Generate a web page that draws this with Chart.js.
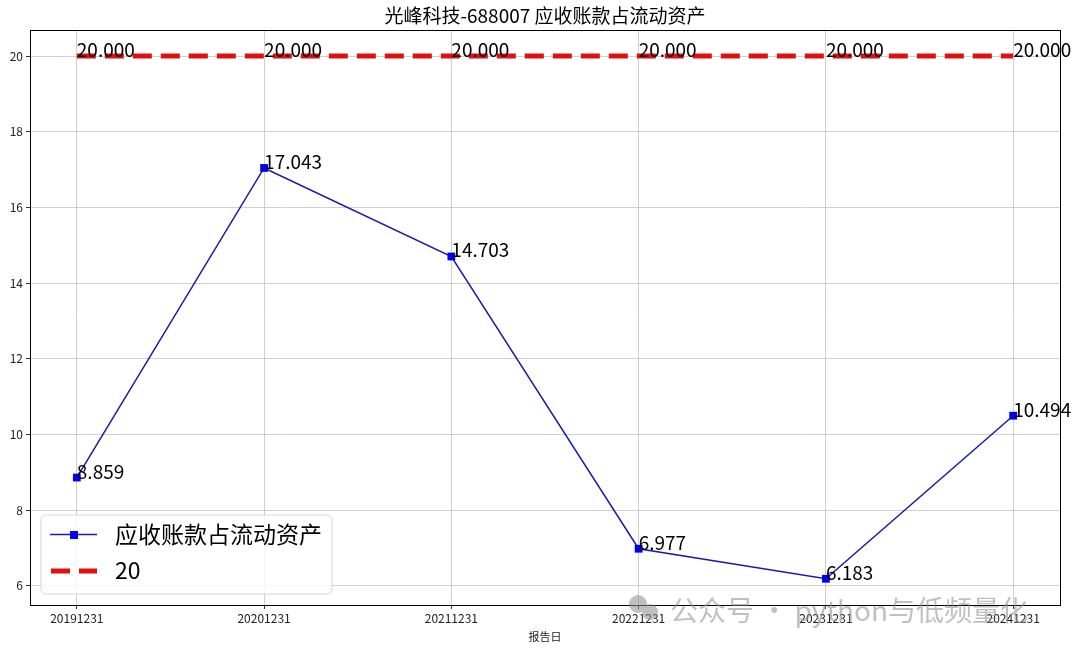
<!DOCTYPE html>
<html lang="zh">
<head>
  <meta charset="UTF-8" />
  <title>光峰科技-688007 应收账款占流动资产</title>
  <script src="https://cdn.jsdelivr.net/npm/chart.js"></script>
  <style>
    body { margin: 0; background: #fff; }
    #wrap { width: 1080px; height: 653px; position: relative; }
  </style>
</head>
<body>
  <div id="wrap"><canvas id="ratioChart"></canvas></div>

  <script>
    const reportDates = ["20191231", "20201231", "20211231", "20221231", "20231231", "20241231"];
    const ratioValues = [8.859, 17.043, 14.703, 6.977, 6.183, 10.494];
    const lineValues = [20, 20, 20, 20, 20, 20];
    const yTicks = [6, 8, 10, 12, 14, 16, 18, 20];

    const titleText = "光峰科技-688007 应收账款占流动资产";
    const seriesName = "应收账款占流动资产";
    const refName = "20";
    const FONT = "'Noto Sans CJK SC', 'Noto Sans', sans-serif";

    // title, value labels, legend box, frame and watermark
    const extras = {
      id: "extras",
      afterDatasetsDraw(chart) {
        const ctx = chart.ctx;
        const a = chart.chartArea;
        const xs = chart.scales.x, ys = chart.scales.y;
        ctx.save();

        // value labels
        ctx.fillStyle = "#000";
        ctx.font = "19px " + FONT;
        ctx.textAlign = "left";
        ctx.textBaseline = "alphabetic";
        [ratioValues, lineValues].forEach(arr => {
          arr.forEach((v, i) => {
            ctx.fillText(v.toFixed(3), xs.getPixelForValue(i), ys.getPixelForValue(v) + 1);
          });
        });

        // frame
        ctx.strokeStyle = "#000";
        ctx.lineWidth = 1;
        ctx.strokeRect(Math.round(a.left) + 0.5, Math.round(a.top) + 0.5,
                       Math.round(a.right - a.left), Math.round(a.bottom - a.top));

        // legend
        const lx = 41, ly = 515, lw = 291, lh = 79;
        ctx.fillStyle = "rgba(255,255,255,0.8)";
        ctx.strokeStyle = "#d6d6d6";
        ctx.beginPath();
        ctx.roundRect(lx, ly, lw, lh, 5);
        ctx.fill();
        ctx.stroke();

        ctx.strokeStyle = "#1a1aa6";
        ctx.lineWidth = 1.5;
        ctx.beginPath();
        ctx.moveTo(50, 534.5); ctx.lineTo(97, 534.5);
        ctx.stroke();
        ctx.fillStyle = "#0000ee";
        ctx.fillRect(70, 531, 8, 8);

        ctx.strokeStyle = "#e01010";
        ctx.lineWidth = 5;
        ctx.setLineDash([19, 9]);
        ctx.beginPath();
        ctx.moveTo(51, 571); ctx.lineTo(97, 571);
        ctx.stroke();
        ctx.setLineDash([]);

        ctx.fillStyle = "#000";
        ctx.font = "23px " + FONT;
        ctx.textBaseline = "middle";
        ctx.fillText(seriesName, 115, 534);
        ctx.fillText(refName, 115, 570);

        // title and axis label
        ctx.textAlign = "center";
        ctx.font = "19px " + FONT;
        ctx.fillText(titleText, (a.left + a.right) / 2, 16);
        ctx.font = "11px " + FONT;
        ctx.fillStyle = "#222";
        ctx.fillText("报告日", (a.left + a.right) / 2, 637);

        // watermark
        ctx.fillStyle = "rgba(140,140,140,0.55)";
        ctx.beginPath();
        ctx.arc(638, 604, 9, 0, Math.PI * 2);
        ctx.arc(650, 612, 8, 0, Math.PI * 2);
        ctx.fill();
        ctx.textAlign = "left";
        ctx.font = "28px " + FONT;
        ctx.fillText("公众号 · python与低频量化", 670, 610);

        ctx.restore();
      }
    };

    new Chart(document.getElementById("ratioChart"), {
      type: "line",
      data: {
        datasets: [
          {
            label: seriesName,
            data: ratioValues.map((v, i) => ({ x: i, y: v })),
            borderColor: "#1a1aa6",
            borderWidth: 1.5,
            pointStyle: "rect",
            pointRadius: 5.5,
            pointBackgroundColor: "#0000ee",
            pointBorderColor: "#0000ee",
            pointBorderWidth: 0,
            tension: 0
          },
          {
            label: refName,
            data: lineValues.map((v, i) => ({ x: i, y: v })),
            borderColor: "#e01010",
            borderWidth: 5,
            borderDash: [19, 9],
            borderCapStyle: "butt",
            pointRadius: 0,
            tension: 0
          }
        ]
      },
      options: {
        responsive: true,
        maintainAspectRatio: false,
        animation: false,
        layout: { padding: { top: 30, right: 20, left: 0, bottom: 0 } },
        plugins: {
          legend: { display: false },
          title: { display: false },
          tooltip: { enabled: false }
        },
        scales: {
          x: {
            type: "linear",
            min: -0.25,
            max: 5.25,
            afterBuildTicks: s => { s.ticks = reportDates.map((d, i) => ({ value: i })); },
            afterFit: s => { s.height = 48; },
            ticks: {
              callback: v => reportDates[v],
              font: { family: FONT, size: 12 },
              color: "#222",
              maxRotation: 0,
              padding: 2
            },
            grid: { color: "#c4c4c4", lineWidth: 0.8, tickColor: "#000", tickLength: 4 },
            border: { display: false }
          },
          y: {
            min: 5.49,
            max: 20.69,
            afterBuildTicks: s => { s.ticks = yTicks.map(v => ({ value: v })); },
            afterFit: s => { s.width = 30; },
            ticks: {
              font: { family: FONT, size: 12 },
              color: "#222",
              padding: 3
            },
            grid: { color: "#c4c4c4", lineWidth: 0.8, tickColor: "#000", tickLength: 4 },
            border: { display: false }
          }
        }
      },
      plugins: [extras]
    });
  </script>
</body>
</html>
